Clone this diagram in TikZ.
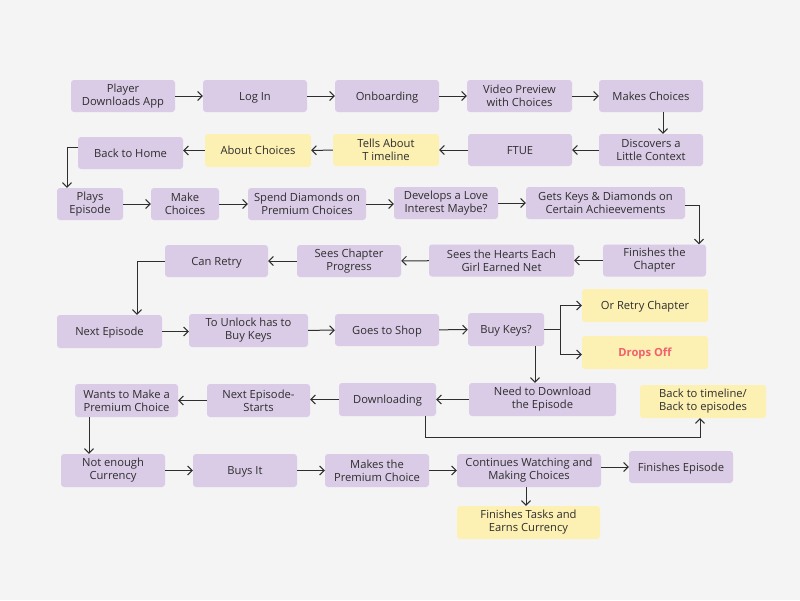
\documentclass[tikz,border=0pt]{standalone}
\usepackage{fontspec}
\setmainfont{Open Sans}
\usetikzlibrary{arrows.meta,calc}
\definecolor{bg}{HTML}{F4F4F4}
\definecolor{pur}{HTML}{DACCE6}
\definecolor{yel}{HTML}{FCF0B3}
\definecolor{ink}{HTML}{2E2E2E}
\definecolor{redtxt}{HTML}{F2606E}
\tikzset{
  box/.style={rounded corners=3pt, align=center, inner sep=0pt, text=ink,
    font=\fontsize{11.2}{13}\selectfont, minimum height=32pt, minimum width=104pt},
  pbox/.style={box, fill=pur},
  ybox/.style={box, fill=yel},
  oneline/.style={text height=8pt, text depth=-1pt},
  arr/.style={draw=ink, line width=1pt, -{Straight Barb[length=4.5pt,width=9pt]}},
  ln/.style={draw=ink, line width=1pt}
}
\begin{document}
\begin{tikzpicture}[x=1pt,y=-1pt]
\path[fill=bg] (0,0) rectangle (800,600);
% row 1
\node[pbox] (pda) at (123,96) {Player\\Downloads App};
\node[pbox, oneline] (login) at (255,96) {Log In};
\node[pbox, oneline] (onb) at (387,96) {Onboarding};
\node[pbox, minimum width=105pt] (vid) at (519.5,96) {Video Preview\\with Choices};
\node[pbox, oneline] (mc) at (651,96) {Makes Choices};
% row 2
\node[pbox] (disc) at (651,150) {Discovers a\\Little Context};
\node[pbox, oneline] (ftue) at (520,150) {FTUE};
\node[ybox, minimum width=106pt] (tells) at (386,150) {Tells About\\T imeline};
\node[ybox, oneline, minimum width=106pt, minimum height=33pt] (about) at (258,150.5) {About Choices};
\node[pbox, oneline, minimum width=105pt] (home) at (130.5,153) {Back to Home};
% row 3
\node[pbox, minimum width=66pt] (plays) at (90,204) {Plays\\Episode};
\node[pbox, minimum width=68pt] (make) at (185,204) {Make\\Choices};
\node[pbox, minimum width=118pt] (spend) at (307,204) {Spend Diamonds on\\Premium Choices};
\node[pbox] (dev) at (446,203) {Develops a Love\\Interest Maybe?};
\node[pbox, minimum width=159pt] (gets) at (605.5,203) {Gets Keys \& Diamonds on\\Certain Achieevements};
% row 4
\node[pbox, minimum width=103pt] (finch) at (654.5,260.5) {Finishes the\\Chapter};
\node[pbox, minimum width=145pt] (hearts) at (501.5,260.5) {Sees the Hearts Each\\Girl Earned Net};
\node[pbox] (prog) at (349,261) {Sees Chapter\\Progress};
\node[pbox, oneline, minimum width=103pt] (retry) at (216.5,261) {Can Retry};
% row 5
\node[pbox, oneline, minimum width=105pt, minimum height=33pt] (next) at (109.5,331.5) {Next Episode};
\node[pbox, minimum width=119pt, minimum height=33pt] (unlock) at (248.5,330.5) {To Unlock has to\\Buy Keys};
\node[pbox, oneline] (shop) at (387,330) {Goes to Shop};
\node[pbox, oneline, minimum width=76pt, minimum height=33pt] (buy) at (506,329.5) {Buy Keys?};
\node[ybox, oneline, minimum width=126pt, minimum height=33pt] (orretry) at (645,305.5) {Or Retry Chapter};
\node[ybox, oneline, minimum width=126pt, minimum height=33pt, text=redtxt, font=\fontsize{11.2}{13}\selectfont\bfseries] (drops) at (645,352.5) {Drops Off};
% row 6
\node[pbox, minimum width=147pt, minimum height=33pt] (need) at (542.5,399.5) {Need to Download\\the Episode};
\node[pbox, oneline, minimum width=97pt, minimum height=33pt] (down) at (387.5,399.5) {Downloading};
\node[pbox, minimum width=103pt, minimum height=33pt] (nes) at (258.5,400.5) {Next Episode-\\Starts};
\node[pbox, minimum width=103pt, minimum height=33pt] (wants) at (126.5,400.5) {Wants to Make a\\Premium Choice};
\node[ybox, minimum width=126pt, minimum height=33pt] (backtl) at (703,401.5) {Back to timeline/\\Back to episodes};
% row 7
\node[pbox, minimum height=33pt] (notenough) at (113,470.5) {Not enough\\Currency};
\node[pbox, oneline, minimum height=33pt] (buysit) at (245,470.5) {Buys It};
\node[pbox, minimum height=33pt] (makesp) at (377,470.5) {Makes the\\Premium Choice};
\node[pbox, minimum width=144pt, minimum height=33pt] (cont) at (529,470.5) {Continues Watching and\\Making Choices};
\node[pbox, oneline] (finep) at (681,467) {Finishes Episode};
\node[ybox, minimum width=143pt, minimum height=33pt] (tasks) at (528.5,522.5) {Finishes Tasks and\\Earns Currency};
% connectors row 1
\draw[arr] (pda) -- (login);
\draw[arr] (login) -- (onb);
\draw[arr] (onb) -- (vid);
\draw[arr] (vid) -- (mc);
\draw[arr] ([xshift=12pt]mc.south) -- ([xshift=12pt]disc.north);
% row 2
\draw[arr] (disc) -- (ftue);
\draw[arr] (ftue) -- (tells);
\draw[arr] (tells) -- (about);
\draw[arr] (about.west) -- (about.west -| home.east);
\draw[arr] ([yshift=6pt]home.west) -| ([xshift=-23pt]plays.north);
% row 3
\draw[arr] (plays) -- (make);
\draw[arr] (make) -- (spend);
\draw[arr] (spend.east) -- (spend.east -| dev.west);
\draw[arr] (dev) -- (gets);
\draw[arr] ([yshift=-2pt]gets.east) -| ([xshift=44.5pt]finch.north);
% row 4
\draw[arr] (finch) -- (hearts);
\draw[arr] (hearts) -- (prog);
\draw[arr] (prog) -- (retry);
\draw[arr] (retry.west) -| ([xshift=27.5pt]next.north);
% row 5
\draw[arr] (next.east) -- (next.east -| unlock.west);
\draw[arr] (unlock) -- (shop);
\draw[arr] (shop) -- (buy);
\coordinate (br) at ($(buy.east)+(16,0)$);
\draw[arr] (buy.east) -- (br) |- (orretry.west);
\draw[arr] (br) |- ([yshift=-2pt]drops.west);
\draw[arr] ([xshift=29pt]buy.south) -- ([xshift=29pt]buy.south |- need.north);
% row 6
\draw[arr] (need) -- (down);
\draw[arr] (down.west) -- (down.west -| nes.east);
\draw[arr] (nes) -- (wants);
\coordinate (dl) at ($(down.south)+(37.5,21)$);
\draw[arr] ([xshift=37.5pt]down.south) -- (dl) -| ([xshift=-3pt]backtl.south);
\draw[arr] ([xshift=-37.5pt]wants.south) -- ([xshift=-37.5pt]wants.south |- notenough.north);
% row 7
\draw[arr] (notenough) -- (buysit);
\draw[arr] (buysit) -- (makesp);
\draw[arr] (makesp) -- (cont);
\draw[arr] (cont.east |- finep.west) -- (finep.west);
\draw[arr] ([xshift=-3pt]cont.south) -- ([xshift=-3pt]cont.south |- tasks.north);
\end{tikzpicture}
\end{document}
